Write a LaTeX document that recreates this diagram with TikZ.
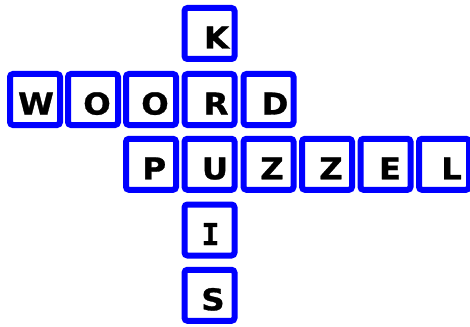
\documentclass[tikz,border=0pt]{standalone}
\usepackage{fontspec}
\newfontfamily\cellfont[FakeStretch=1.08,BoldFeatures={FakeBold=1}]{DejaVu Sans}
\newfontfamily\cellmono[BoldFeatures={FakeBold=1}]{DejaVu Sans Mono}
\usetikzlibrary{calc}
\definecolor{cellblue}{RGB}{0,0,255}
\tikzset{
  cell/.style={draw=cellblue, fill=white, line width=6pt, rounded corners=3pt,
    minimum width=50pt, minimum height=51pt, inner sep=0pt},
  letter/.style={font={\fontsize{30}{32}\selectfont\cellfont\bfseries}, text=black,
    inner sep=0pt, anchor=base}
}
% name, x, y, letter, dx
\newcommand\puzcell[5]{%
  \node[cell] (#1) at (#2,#3) {};
  \node[letter] (#1t) at ($(#1.center)+(#5,15)$) {#4};
}
\begin{document}
\begin{tikzpicture}[x=1pt,y=-1pt]
\useasboundingbox (0,0) rectangle (470,326);
% column centres: 35 93 151 209.5 268.5 327 385.5 444
% row centres: 33.5 99.5 164.3 230 295.3
\puzcell{k}{209.5}{33.5}{K}{7}
\puzcell{w}{35}{99.5}{W}{1}
\puzcell{o1}{93}{99.5}{O}{4}
\puzcell{o2}{151}{99.5}{O}{4}
\puzcell{r}{209.5}{99.5}{R}{6.5}
\puzcell{d}{268.5}{99.5}{D}{6.5}
\puzcell{p}{151}{164.3}{P}{3.3}
\puzcell{u}{209.5}{164.3}{U}{5.5}
\puzcell{z1}{268.5}{164.3}{Z}{3.5}
\puzcell{z2}{327}{164.3}{Z}{4}
\puzcell{e}{385.5}{164.3}{E}{4.5}
\puzcell{l}{444}{164.3}{L}{7.5}
\puzcell{i}{209.5}{230}{{\cellmono\bfseries I}}{1}
\puzcell{s}{209.5}{295.3}{S}{3.5}
\end{tikzpicture}
\end{document}
